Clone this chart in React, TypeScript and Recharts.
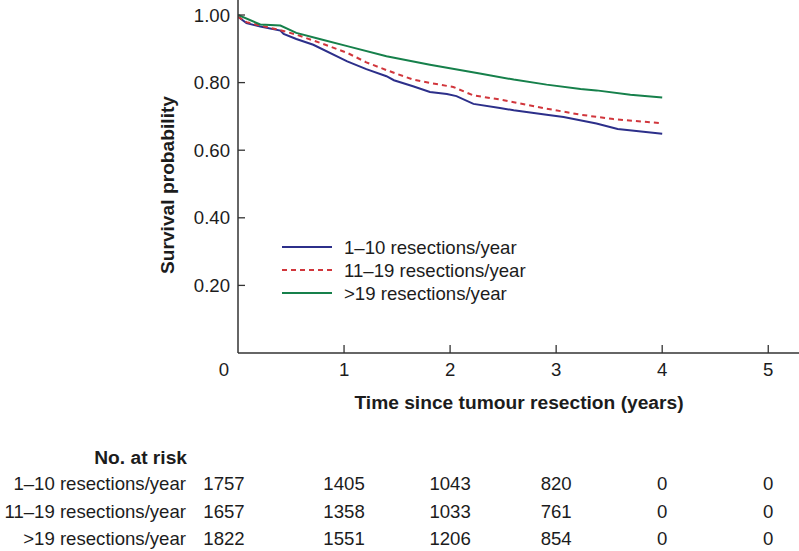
import { LineChart, Line, XAxis, YAxis } from 'recharts'

// Kaplan-Meier estimates (time in years, survival probability)
const lowTimes = [0, 0.08, 0.21, 0.4, 0.43, 0.55, 0.71, 1.03, 1.21, 1.4, 1.47, 1.65, 1.81, 1.97, 2.06, 2.22, 2.47, 2.6, 2.91, 3.07, 3.38, 3.58, 4.0]
const lowSurv = [0.995, 0.976, 0.966, 0.954, 0.944, 0.929, 0.912, 0.863, 0.84, 0.819, 0.807, 0.789, 0.772, 0.766, 0.76, 0.737, 0.725, 0.718, 0.705, 0.698, 0.679, 0.663, 0.649]

const midTimes = [0, 0.08, 0.21, 0.4, 0.55, 0.77, 1.03, 1.21, 1.4, 1.65, 1.81, 2.03, 2.22, 2.47, 2.6, 2.91, 3.23, 3.54, 4.0]
const midSurv = [0.995, 0.979, 0.969, 0.955, 0.942, 0.918, 0.888, 0.86, 0.837, 0.809, 0.799, 0.787, 0.762, 0.75, 0.742, 0.723, 0.705, 0.692, 0.68]

const highTimes = [0, 0.21, 0.4, 0.55, 0.77, 1.03, 1.4, 1.81, 2.28, 2.6, 2.91, 3.23, 3.38, 3.7, 4.0]
const highSurv = [1.0, 0.972, 0.969, 0.947, 0.929, 0.908, 0.878, 0.853, 0.827, 0.809, 0.794, 0.781, 0.777, 0.764, 0.756]

const xTicks = [0, 1, 2, 3, 4, 5]
const yTicks = [0.2, 0.4, 0.6, 0.8, 1.0]

const groupNames = ['1–10 resections/year', '11–19 resections/year', '>19 resections/year']
const riskLow = [1757, 1405, 1043, 820, 0, 0]
const riskMid = [1657, 1358, 1033, 761, 0, 0]
const riskHigh = [1822, 1551, 1206, 854, 0, 0]

const INK = '#1c1c1c'
const AXIS = '#333'
const FONT = '"Liberation Sans", Arial, Helvetica, sans-serif'
const FS = 18.6
const FS_BOLD = 19.2

const zip = (t: number[], s: number[]) => t.map((time, i) => ({ t: time, s: s[i] }))

const series = [
  { name: groupNames[0], data: zip(lowTimes, lowSurv), color: '#2c2f8a', dash: undefined as string | undefined, risk: riskLow },
  { name: groupNames[1], data: zip(midTimes, midSurv), color: '#d1363c', dash: '5 4', risk: riskMid },
  { name: groupNames[2], data: zip(highTimes, highSurv), color: '#16804b', dash: undefined, risk: riskHigh },
]

function YTick({ x, y, payload }: any) {
  return (
    <g>
      <line x1={x} x2={x + 7} y1={y} y2={y} stroke={AXIS} strokeWidth={1.3} />
      <text x={x - 8} y={y} dy={6.5} textAnchor="end" fontSize={FS} fontFamily={FONT} fill={INK}>
        {Number(payload.value).toFixed(2)}
      </text>
    </g>
  )
}

// x tick also carries the number-at-risk table below the axis
function XTick({ x, y, payload }: any) {
  const v = payload.value as number
  const tx = v === 0 ? x - 14 : x
  return (
    <g>
      {v > 0 && <line x1={x} x2={x} y1={y} y2={y - 8} stroke={AXIS} strokeWidth={1.3} />}
      <text x={tx} y={y + 22.5} textAnchor="middle" fontSize={FS} fontFamily={FONT} fill={INK}>{v}</text>
      {series.map((s, i) => (
        <text key={s.name} x={tx} y={y + 137 + i * 27.5} textAnchor="middle" fontSize={FS} fontFamily={FONT} fill={INK}>
          {s.risk[xTicks.indexOf(v)]}
        </text>
      ))}
    </g>
  )
}

export default function App() {
  return (
    <div style={{ position: 'absolute', left: 0, top: 0, width: 799, height: 551, background: '#fff' }}>
      <LineChart width={799} height={551} margin={{ top: 0, right: 0, bottom: 0, left: 0 }}>
        <XAxis
          type="number"
          dataKey="t"
          domain={[0, 5.29]}
          ticks={xTicks}
          allowDataOverflow
          height={198}
          tickSize={0}
          tickMargin={0}
          tickLine={false}
          tick={<XTick />}
          axisLine={{ stroke: AXIS, strokeWidth: 1.5 }}
          interval={0}
        />
        <YAxis
          type="number"
          domain={[0, 1.0444]}
          ticks={yTicks}
          allowDataOverflow
          width={238}
          tickSize={0}
          tickMargin={0}
          tickLine={false}
          tick={<YTick />}
          axisLine={{ stroke: AXIS, strokeWidth: 1.5 }}
          interval={0}
        />
        {series.map((s) => (
          <Line
            key={s.name}
            data={s.data}
            dataKey="s"
            name={s.name}
            type="linear"
            stroke={s.color}
            strokeWidth={2}
            strokeDasharray={s.dash}
            dot={false}
            activeDot={false}
            isAnimationActive={false}
          />
        ))}
        <g fontFamily={FONT} fill={INK}>
          <text x={174} y={185} transform="rotate(-90 174 185)" textAnchor="middle" fontSize={FS_BOLD} fontWeight="bold">
            Survival probability
          </text>
          <text x={519} y={409} textAnchor="middle" fontSize={FS_BOLD} fontWeight="bold">
            Time since tumour resection (years)
          </text>
          {series.map((s, i) => (
            <g key={s.name}>
              <line x1={282} x2={332} y1={247 + i * 23} y2={247 + i * 23} stroke={s.color} strokeWidth={2} strokeDasharray={s.dash} />
              <text x={344} y={253.5 + i * 23} fontSize={FS}>{s.name}</text>
            </g>
          ))}
          <text x={187} y={464} textAnchor="end" fontSize={FS_BOLD} fontWeight="bold">No. at risk</text>
          {series.map((s, i) => (
            <text key={s.name} x={186} y={490 + i * 27.5} textAnchor="end" fontSize={FS}>{s.name}</text>
          ))}
        </g>
      </LineChart>
    </div>
  )
}
